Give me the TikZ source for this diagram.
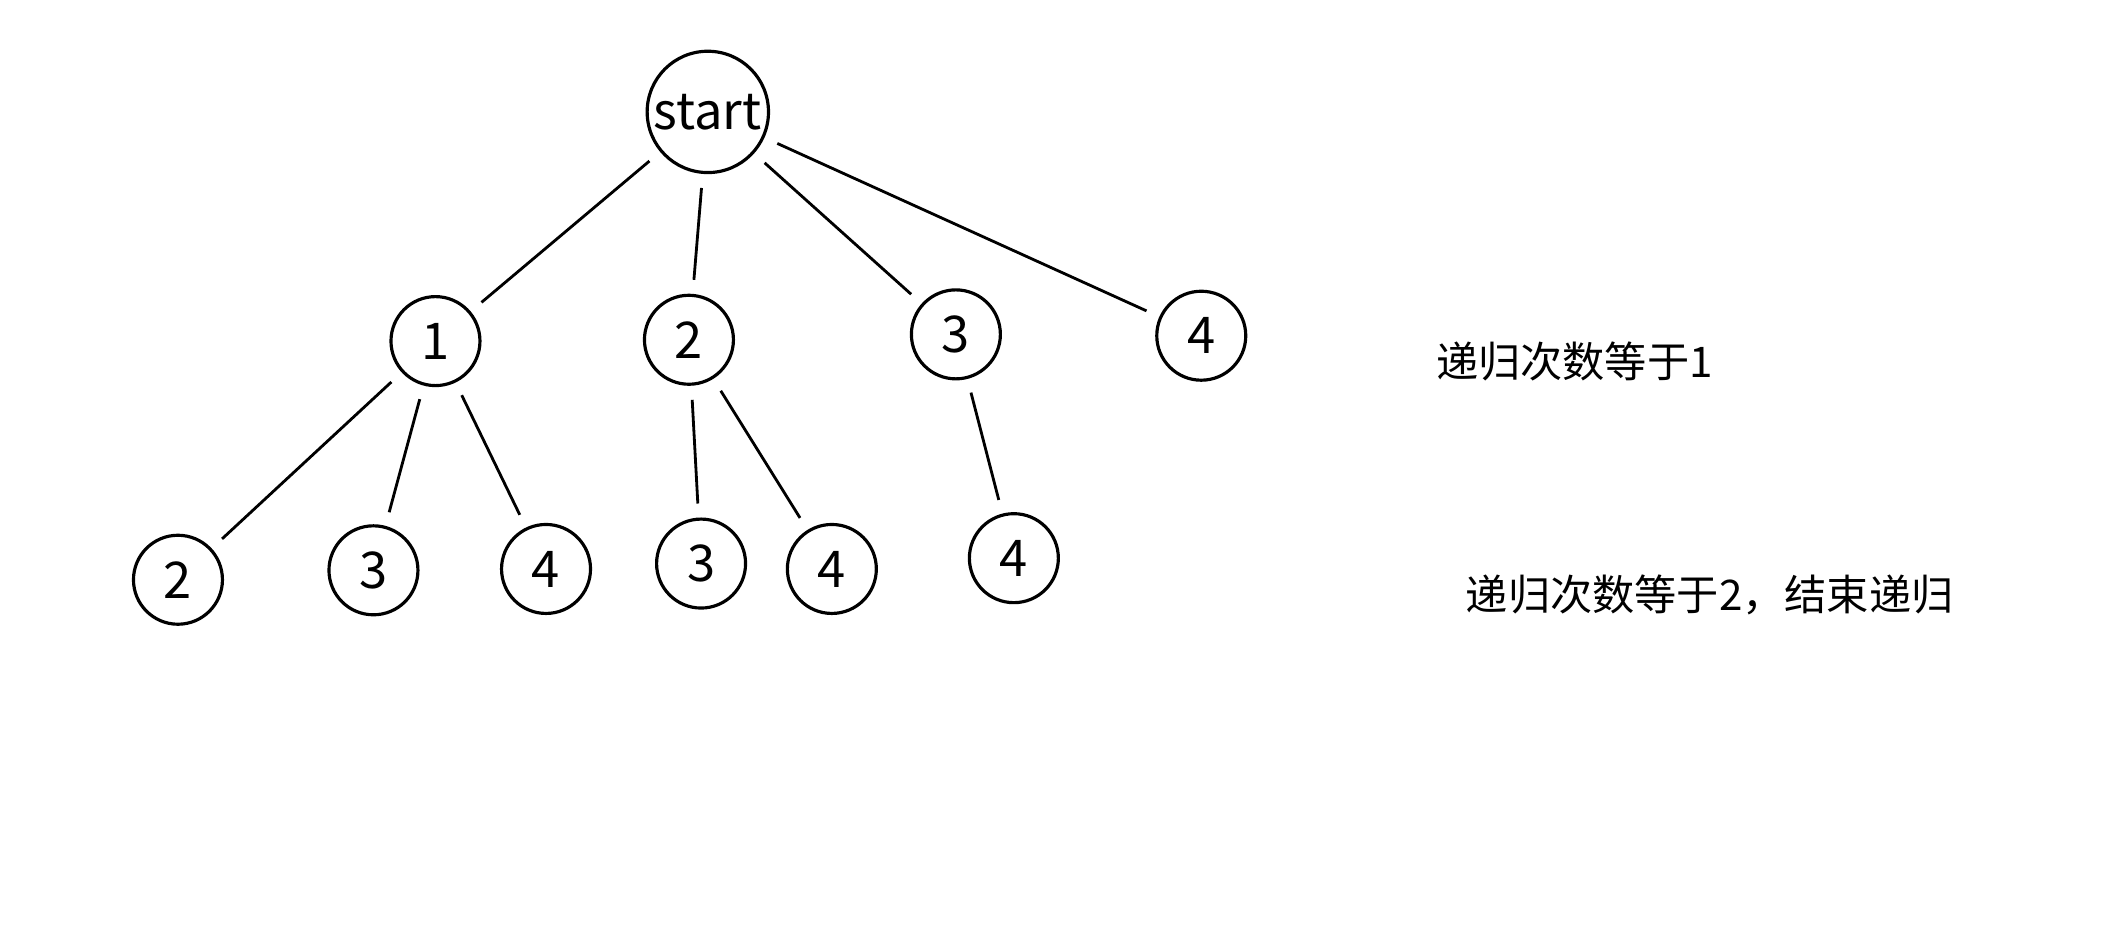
\documentclass[tikz,border=0pt]{standalone}
\usepackage{fontspec}
\setmainfont{Noto Sans CJK SC}
\begin{document}
\begin{tikzpicture}[x=0.01348cm, y=-0.01348cm,
    vertex/.style={circle, draw, line width=0.9pt, minimum size=66*0.01348cm, inner sep=0pt, font=\Large},
    edge/.style={line width=0.8pt, shorten >=4pt, shorten <=4pt}]
    \useasboundingbox (0,0) rectangle (1568,694);
    % Root and first level
    \node [vertex, minimum size=90*0.01348cm] (start) at (525,83) {start};
    \node [vertex] (a1) at (323,253) {1};
    \node [vertex] (a2) at (511,252) {2};
    \node [vertex] (a3) at (709,248) {3};
    \node [vertex] (a4) at (891,249) {4};

    % Second level
    \node [vertex] (b12) at (132,430) {2};
    \node [vertex] (b13) at (277,423) {3};
    \node [vertex] (b14) at (405,422) {4};
    \node [vertex] (b23) at (520,418) {3};
    \node [vertex] (b24) at (617,422) {4};
    \node [vertex] (b34) at (752,414) {4};

    \draw [edge] (start) -- (a1);
    \draw [edge] (start) -- (a2);
    \draw [edge] (start) -- (a3);
    \draw [edge] (start) -- (a4);
    \draw [edge] (a1) -- (b12);
    \draw [edge] (a1) -- (b13);
    \draw [edge] (a1) -- (b14);
    \draw [edge] (a2) -- (b23);
    \draw [edge] (a2) -- (b24);
    \draw [edge] (a3) -- (b34);

    \node [anchor=west, font=\large] (lv1) at (1056,268) {递归次数等于1};
    \node [anchor=west, font=\large] (lv2) at (1078,441) {递归次数等于2，结束递归};
\end{tikzpicture}
\end{document}
